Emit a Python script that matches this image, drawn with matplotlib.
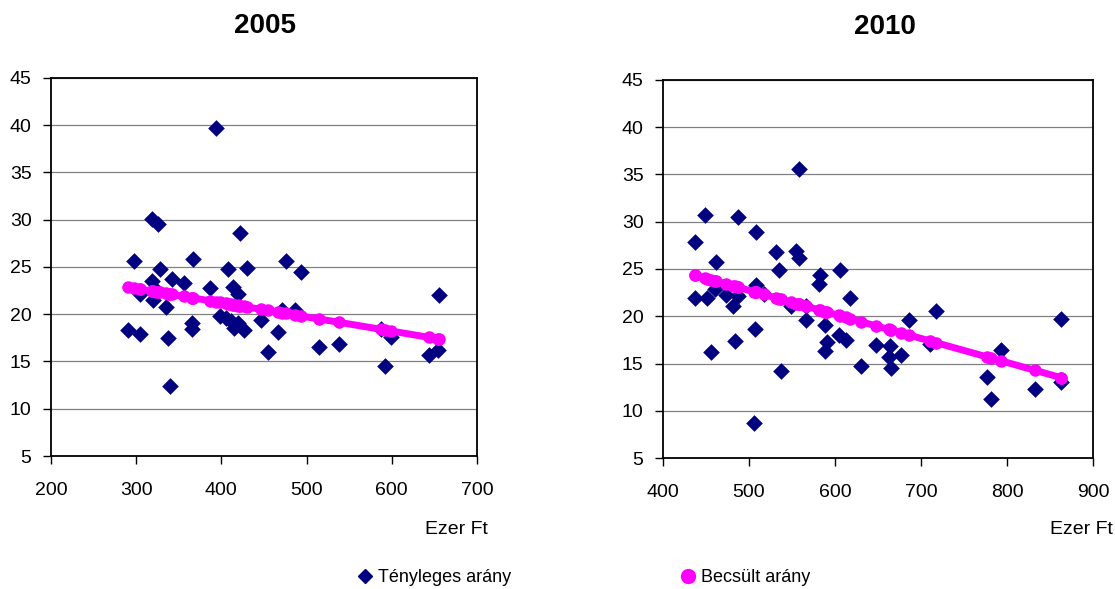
import matplotlib.pyplot as plt
from matplotlib.lines import Line2D

plt.rcParams['font.family'] = ['Liberation Sans', 'DejaVu Sans']

# --- 2005 data (Ezer Ft, arány) ---
x_2005 = [290, 298, 304, 304, 318, 319, 320, 323, 326, 328, 335, 337, 340, 342,
          356, 365, 366, 367, 387, 394, 398, 405, 408, 411, 414, 415, 419, 420,
          422, 427, 430, 447, 455, 467, 471, 476, 486, 493, 514, 538, 587, 592,
          599, 644, 654, 655]
actual_2005 = [18.35, 25.6, 22.1, 17.9, 30.1, 23.5, 21.5, 22.6, 29.6, 24.8, 20.8, 17.5,
               12.4, 23.7, 23.3, 18.4, 19.1, 25.8, 22.8, 39.7, 19.8, 19.6, 24.8, 19.3,
               22.9, 18.5, 19.1, 22.1, 28.6, 18.35, 24.9, 19.4, 16.0, 18.1, 20.4, 25.6,
               20.4, 24.5, 16.5, 16.9, 18.4, 14.5, 17.6, 15.7, 16.2, 22.0]
est_2005 = [22.88, 22.76, 22.67, 22.67, 22.46, 22.45, 22.43, 22.39, 22.34, 22.31, 22.21,
            22.18, 22.13, 22.10, 21.89, 21.75, 21.74, 21.72, 21.42, 21.32, 21.26, 21.15,
            21.11, 21.06, 21.02, 21.00, 20.94, 20.92, 20.89, 20.82, 20.77, 20.52, 20.40,
            20.22, 20.16, 20.08, 19.93, 19.82, 19.51, 19.15, 18.41, 18.33, 18.23, 17.55,
            17.40, 17.38]

# --- 2010 data ---
x_2010 = [437, 437, 449, 451, 455.5, 460.5, 462, 473.7, 481.4, 483.7, 487, 487.7,
          505.5, 506.6, 508.6, 508.6, 517, 531.9, 535, 537.7, 549, 555, 558, 558,
          566.7, 566.7, 581.4, 583, 588, 588, 590.7, 604.7, 606, 612.4, 618, 630,
          648, 662.8, 664.4, 664.8, 677, 686, 711, 718, 776.7, 781, 792.7, 832,
          863, 863]
actual_2010 = [27.9, 21.9, 30.7, 21.9, 16.2, 22.85, 25.75, 22.2, 21.1, 17.4, 22.1, 30.5,
               8.7, 18.7, 28.9, 23.3, 22.4, 26.8, 24.9, 14.25, 21.1, 26.9, 35.6, 26.15,
               21.1, 19.6, 23.4, 24.4, 19.1, 16.3, 17.3, 18.05, 24.9, 17.5, 21.9, 14.7,
               17.0, 15.7, 16.8, 14.5, 15.9, 19.6, 17.1, 20.6, 13.6, 11.2, 16.45, 12.3,
               19.75, 13.0]
est_2010 = [24.35, 24.35, 24.04, 23.99, 23.88, 23.75, 23.71, 23.41, 23.22, 23.16, 23.07,
            23.06, 22.60, 22.57, 22.52, 22.52, 22.31, 21.93, 21.85, 21.78, 21.50, 21.34,
            21.27, 21.27, 21.04, 21.04, 20.67, 20.63, 20.50, 20.50, 20.43, 20.08, 20.04,
            19.88, 19.74, 19.43, 18.97, 18.60, 18.56, 18.55, 18.24, 18.01, 17.37, 17.19,
            15.70, 15.59, 15.29, 14.29, 13.50, 13.50]

y_ticks = [5, 10, 15, 20, 25, 30, 35, 40, 45]
labels = ['Tényleges arány', 'Becsült arány']
NAVY = '#000080'
MAGENTA = '#FF00FF'


def draw_panel(ax, x, actual, est, xlim, xticks):
    ax.grid(True, axis='y', color='#808080', linewidth=0.9)
    ax.set_axisbelow(True)
    ax.scatter(x, actual, marker='D', s=72, color=NAVY, linewidths=0, zorder=3)
    ax.plot(x, est, color=MAGENTA, linewidth=5, marker='o', markersize=9,
            markeredgewidth=0, zorder=4)
    ax.set_xlim(*xlim)
    ax.set_ylim(5, 45)
    ax.set_xticks(xticks)
    ax.set_yticks(y_ticks)
    ax.tick_params(direction='out', length=6, width=1, labelsize=14)
    ax.tick_params(axis='x', pad=13)
    ax.tick_params(axis='y', pad=8)
    for sp in ax.spines.values():
        sp.set_linewidth(1.3)
        sp.set_color('black')


fig = plt.figure(figsize=(11.15, 5.89), dpi=100)
ax1 = fig.add_axes([0.0457, 0.2258, 0.3821, 0.6418])
ax2 = fig.add_axes([0.5946, 0.2224, 0.3857, 0.6418])

draw_panel(ax1, x_2005, actual_2005, est_2005, (200, 700), [200, 300, 400, 500, 600, 700])
draw_panel(ax2, x_2010, actual_2010, est_2010, (400, 900), [400, 500, 600, 700, 800, 900])

fig.text(265 / 1115, 1 - 26 / 589, '2005', ha='center', va='center',
         fontsize=20, fontweight='bold')
fig.text(885 / 1115, 1 - 27 / 589, '2010', ha='center', va='center',
         fontsize=20, fontweight='bold')
fig.text(488 / 1115, 1 - 530 / 589, 'Ezer Ft', ha='right', va='center', fontsize=14)
fig.text(1113 / 1115, 1 - 530 / 589, 'Ezer Ft', ha='right', va='center', fontsize=14)

handles = [
    Line2D([], [], linestyle='none', marker='D', color=NAVY, markersize=7),
    Line2D([], [], linestyle='none', marker='o', color=MAGENTA, markersize=10),
]
fig.legend(handles, labels, loc='center left', bbox_to_anchor=(358 / 1115, 11 / 589),
           ncol=2, frameon=False, fontsize=13, borderpad=0, borderaxespad=0,
           handlelength=0.8, handletextpad=0.3, columnspacing=9.4)

fig.savefig('out.png', dpi=100)
